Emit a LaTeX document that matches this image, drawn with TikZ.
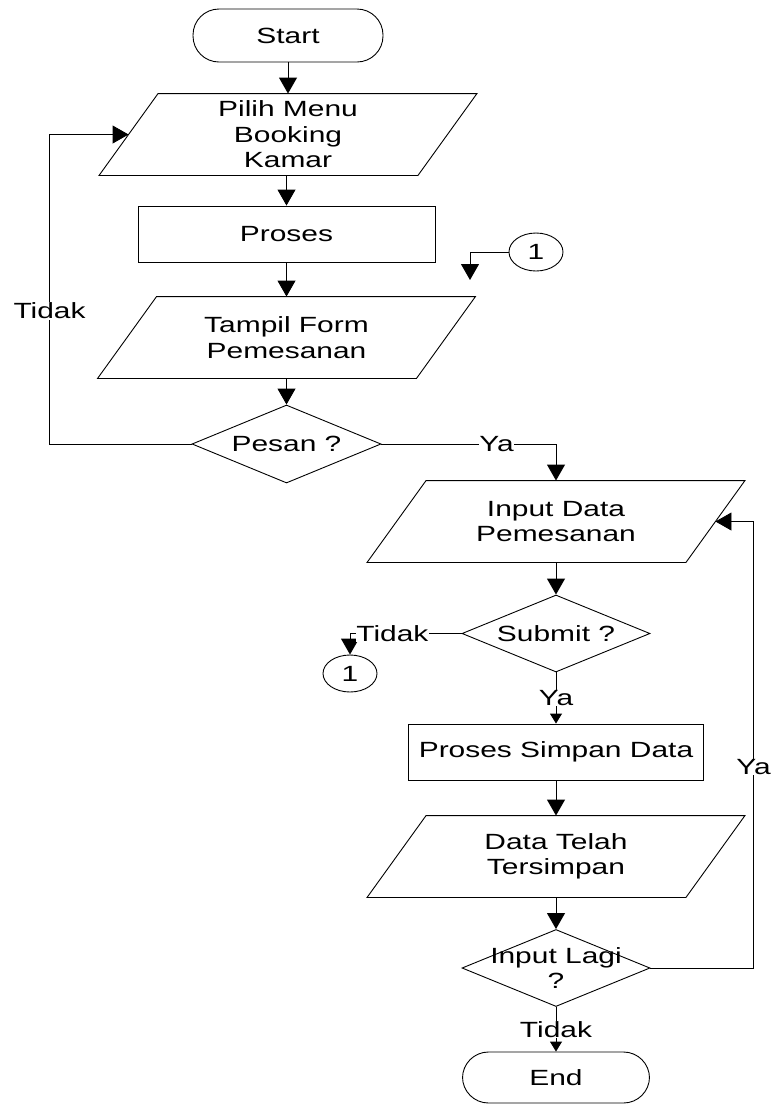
\documentclass[tikz,border=0pt]{standalone}
\usepackage{fontspec}
\setmainfont[FakeStretch=1.36]{Liberation Sans}
\usetikzlibrary{shapes.geometric,arrows.meta}

\tikzset{
term/.style={draw,rounded corners=26pt,minimum width=190pt,minimum height=53pt,inner sep=0pt},
io/.style={minimum width=318pt,minimum height=81pt,inner sep=0pt,align=center},
proc/.style={draw,minimum width=297pt,minimum height=56pt,inner sep=0pt},
decision/.style={draw,diamond,aspect=2.44,minimum width=188pt,minimum height=77pt,inner sep=0pt,align=center},
conn/.style={draw,ellipse,minimum width=54pt,minimum height=37pt,inner sep=0pt},
lbl/.style={fill=white,inner sep=0.5pt},
arr/.style={-{Triangle[width=18pt,length=16pt]}},
sarr/.style={-{Triangle[width=12pt,length=10pt]}}
}

\begin{document}
\begin{tikzpicture}[x=1pt,y=-1pt,line width=0.9pt,font=\fontsize{22pt}{25.5pt}\selectfont]
\useasboundingbox (0,0) rectangle (774,1104);
\node (Start) [term] at (288,35.5) {Start};
\node (Menu) [io] at (288,134.5) {Pilih Menu\\Booking\\Kamar};
\node (Proses) [proc] at (286.5,234) {Proses};
\node (Form) [io] at (286.5,337.5) {Tampil Form\\Pemesanan};
\node (Pesan) [decision,minimum width=189pt,minimum height=78pt] at (286.5,444) {Pesan ?};
\node (C1) [conn,minimum height=38pt] at (536,252) {1};
\coordinate (C1in) at (470,280);

\node (Input) [io] at (556,521.5) {Input Data\\Pemesanan};
\node (Submit) [decision] at (556,633.5) {Submit ?};
\node (C2) [conn] at (350,673.5) {1};
\node (Simpan) [proc,minimum width=295pt] at (556,752) {Proses Simpan Data};
\node (Data) [io] at (556,856.5) {Data Telah\\Tersimpan};
\node (Lagi) [decision] at (556,968) {\makebox[0pt]{Input Lagi}\\?};
\node (End) [term,minimum width=187pt,minimum height=51pt] at (556,1077.5) {End};

\foreach \n in {Menu,Form,Input,Data}
  \draw ([xshift=29.5pt]\n.north west)--([xshift=29.5pt]\n.north east)--([xshift=-29.5pt]\n.south east)--([xshift=-29.5pt]\n.south west)--cycle;

\draw[arr] (Start)--(Menu);
\draw[arr] (Menu.south -| Proses.north)--(Proses);
\draw[arr] (Proses)--(Form);
\draw[arr] (Form)--(Pesan);
\draw[arr] (Pesan.west)--++(-142,0) |- node[lbl,pos=.215] {Tidak} (Menu.west);
\draw[arr] (Pesan.east) -| node[lbl,pos=.33] {Ya} (Input.north);
\draw[arr] (C1.west) -| (C1in);

\draw[arr] (Input)--(Submit);
\draw[arr] (Submit.west) -| node[lbl,pos=.31] {Tidak} (C2.north);
\draw[sarr] (Submit)-- node[lbl] {Ya} (Simpan);
\draw[arr] (Simpan)--(Data);
\draw[arr] (Data)--(Lagi);
\draw[arr] (Lagi.east)--++(103,0) |- node[lbl,pos=.225] {Ya} (Input.east);
\draw[sarr] (Lagi)-- node[lbl] {Tidak} (End);
\end{tikzpicture}
\end{document}
